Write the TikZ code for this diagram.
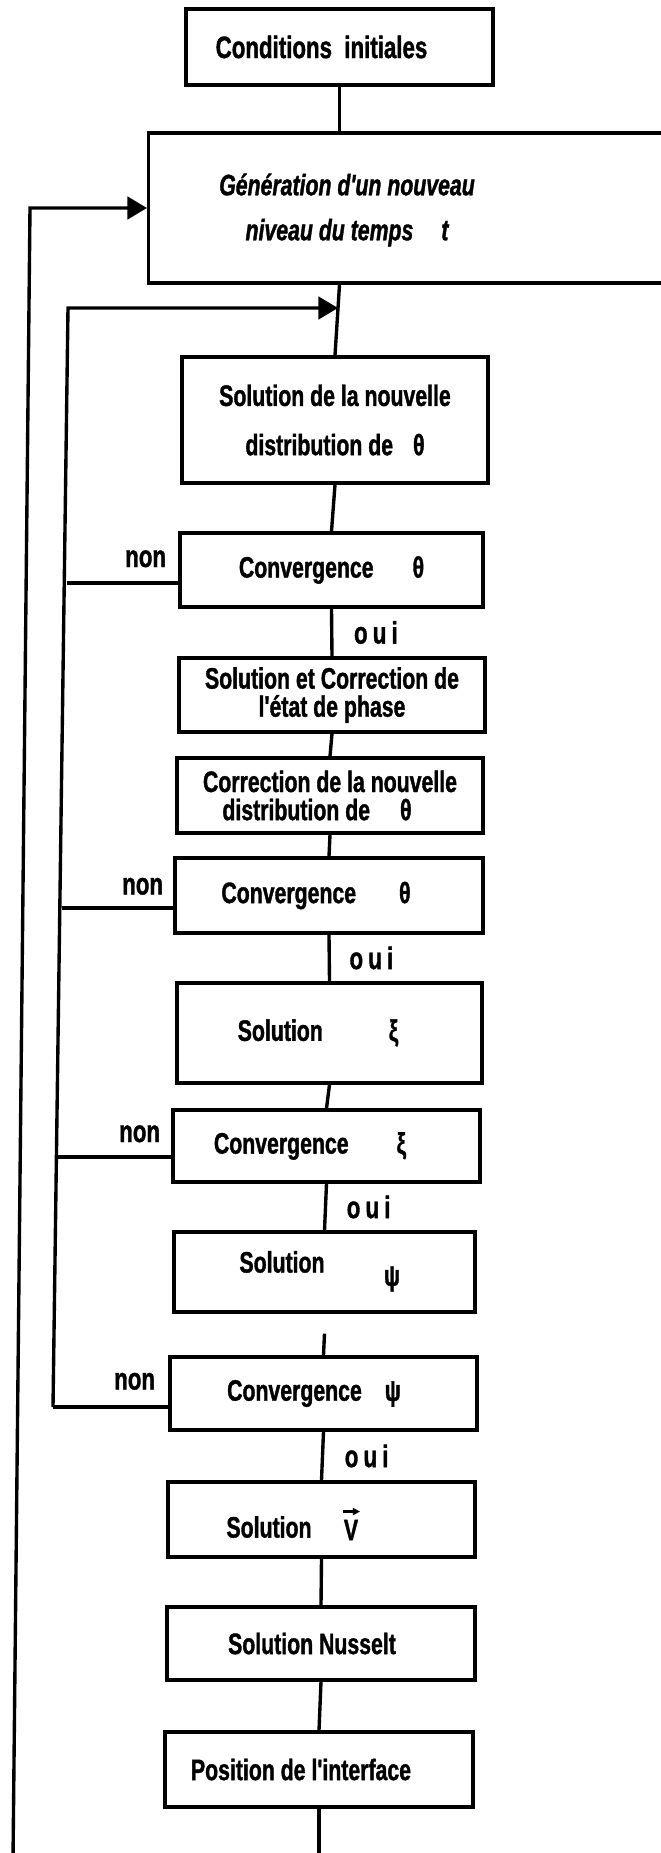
\documentclass[tikz,border=0pt]{standalone}
\usepackage{fontspec}
\newfontfamily\boxfont{Liberation Sans}[FakeStretch=0.72, FakeBold=1.2]
\usetikzlibrary{arrows.meta,calc}
\newlength{\pxu}
\setlength{\pxu}{0.025cm}
\newcommand{\blockfont}{\boxfont\bfseries\fontsize{21pt}{20pt}\selectfont}
\tikzset{
    block/.style={draw, line width=2.4pt, minimum width=306\pxu, minimum height=75\pxu,
        inner sep=0pt, align=center, font=\blockfont},
    words/.style={inner sep=0pt, align=center, font=\blockfont},
    yesno/.style={inner sep=0pt, font=\boxfont\bfseries\fontsize{22pt}{22pt}\selectfont},
    link/.style={line width=2.4pt},
    back/.style={line width=2.4pt, -{Triangle[length=14pt,width=16pt]}},
}
\begin{document}
\begin{tikzpicture}[x=0.025cm, y=-0.025cm]
        \useasboundingbox (0,0) rectangle (661,1853);
        \clip (0,0) rectangle (661,1853);
        % start and time step
        \node[block, minimum width=307\pxu, minimum height=76\pxu,
            font=\boxfont\bfseries\fontsize{22pt}{22pt}\selectfont]
            (cond) at (339.5,47) {Conditions\ \ initiales\hspace*{36\pxu}};
        % the time step box runs off the right edge
        \node[block, anchor=west, minimum width=560\pxu, minimum height=150\pxu] (gen) at (147,208) {};
        \node[words, font=\blockfont\itshape] (gentext) at (347,210)
            {Génération d'un nouveau\\[12pt]niveau du temps\hspace{28\pxu}t};
        % temperature
        \node[block, minimum height=126\pxu] (soltheta) at (335,420)
            {Solution de la nouvelle\\[15pt]distribution de\hspace{20\pxu}θ};
        \node[block, minimum width=303\pxu, minimum height=74\pxu] (convA) at (331.5,570)
            {Convergence\hspace{39\pxu}θ};
        \node[block, minimum height=74\pxu] (solcorr) at (332,695)
            {Solution et Correction de\\l'état de phase};
        \node[block] (corr) at (330,795.5)
            {Correction de la nouvelle\\distribution de\hspace{30\pxu}θ\hspace*{26\pxu}};
        \node[block, minimum width=308\pxu] (convB) at (329,895.5)
            {Convergence\hspace{43\pxu}θ\hspace*{26\pxu}};
        % vorticity and stream function
        \node[block, minimum width=305\pxu, minimum height=100\pxu] (solxi) at (329.5,1033)
            {Solution\hspace{66\pxu}ξ\hspace*{23\pxu}};
        \node[block, minimum width=307\pxu, minimum height=72\pxu] (convxi) at (326.5,1146)
            {Convergence\hspace{48\pxu}ξ\hspace*{33\pxu}};
        \node[block, minimum width=301\pxu, minimum height=80\pxu] (solpsi) at (324.5,1272) {};
        \node[words] (solpsitext) at (282,1262) {Solution};
        \node[words] (psisym) at (392,1279) {ψ};
        \node[block, minimum width=307\pxu, minimum height=73\pxu] (convpsi) at (323.5,1393.5)
            {Convergence\hspace{23\pxu}ψ\hspace*{19\pxu}};
        % velocity, Nusselt, interface
        \node[block, minimum width=307\pxu] (solV) at (321.5,1519.5) {};
        \node[words] (solVtext) at (269,1527) {Solution};
        \node[words] (vsym) at (351,1530) {V};
        \draw[line width=1.6pt, -{Triangle[length=5pt,width=5pt]}]
            ($(vsym.north)+(-8,-8)$) -- ($(vsym.north)+(9,-8)$);
        \node[block, minimum width=308\pxu, minimum height=73\pxu] (nusselt) at (321,1643.5)
            {Solution Nusselt\hspace*{18\pxu}};
        \node[block, minimum width=308\pxu] (interface) at (319,1769.5)
            {Position de l'interface\hspace*{36\pxu}};

        % main line down
        \coordinate (bottom) at (0,1860);
        \coordinate (genout) at (cond.south |- gen.south);
        \draw[link] (cond.south) -- (cond.south |- gen.north);
        \draw[link] (genout) -- (soltheta.north);
        \draw[link] (soltheta.south) -- (convA.north);
        \draw[link] (convA.south) -- (solcorr.north);
        \draw[link] (solcorr.south) -- (corr.north);
        \draw[link] (corr.south) -- (convB.north);
        \draw[link] (convB.south) -- (solxi.north);
        \draw[link] (solxi.south) -- (convxi.north);
        \draw[link] (convxi.south) -- (solpsi.north);
        \draw[link] ($(solpsi.south)+(0,20)$) -- (convpsi.north);
        \draw[link] (convpsi.south) -- (solV.north);
        \draw[link] (solV.south) -- (nusselt.north);
        \draw[link] (nusselt.south) -- (interface.north);
        \draw[link] (interface.south) -- (interface.south |- bottom);

        % inner loop back for the non converged cases
        \coordinate (merge) at (338,308);
        \coordinate (innertop) at (68,308);
        \coordinate (jA) at (67,583);
        \coordinate (jB) at (62,908);
        \coordinate (jxi) at (58,1157);
        \coordinate (jpsi) at (53,1407);
        \draw[link] (jA) -- (jA -| convA.west);
        \draw[link] (jB) -- (jB -| convB.west);
        \draw[link] (jxi) -- (jxi -| convxi.west);
        \draw[link] (jpsi -| convpsi.west) -- (jpsi);
        \draw[back] (jpsi) -- (innertop) -- (merge);

        % outer loop back to the next time step
        \coordinate (outerbot) at (13,1860);
        \coordinate (outertop) at (30,208);
        \draw[back] (outerbot) -- (outertop) -- (gen.west);

        % non / oui labels
        \node[yesno, anchor=base east] (nonA) at ($(convA.west)+(-12,-3)$) {non};
        \node[yesno, anchor=base east] (nonB) at ($(convB.west)+(-10,-1)$) {non};
        \node[yesno, anchor=base east] (nonxi) at ($(convxi.west)+(-11,-4)$) {non};
        \node[yesno, anchor=base east] (nonpsi) at ($(convpsi.west)+(-13,-4)$) {non};
        \node[yesno, anchor=west] (ouiA) at ($(convA.south)!0.5!(solcorr.north)+(22,0)$) {o\,u\,i};
        \node[yesno, anchor=west] (ouiB) at ($(convB.south)!0.5!(solxi.north)+(20,0)$) {o\,u\,i};
        \node[yesno, anchor=west] (ouixi) at ($(convxi.south)!0.5!(solpsi.north)+(21,0)$) {o\,u\,i};
        \node[yesno, anchor=west] (ouipsi) at ($(convpsi.south)!0.5!(solV.north)+(22,0)$) {o\,u\,i};
\end{tikzpicture}
\end{document}
